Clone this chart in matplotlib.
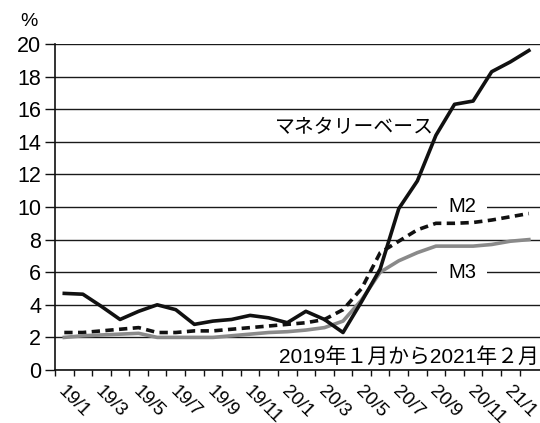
import numpy as np
import matplotlib.pyplot as plt

plt.rcParams['font.family'] = ['Liberation Sans', 'Noto Sans CJK JP', 'DejaVu Sans']

# ----------------------------------
# Data (year-on-year growth, %)
# ----------------------------------
months = ["19/1", "19/2", "19/3", "19/4", "19/5", "19/6", "19/7", "19/8", "19/9",
          "19/10", "19/11", "19/12", "20/1", "20/2", "20/3", "20/4", "20/5", "20/6",
          "20/7", "20/8", "20/9", "20/10", "20/11", "20/12", "21/1", "21/2"]

monetary_base = [4.7, 4.65, 3.9, 3.1, 3.6, 4.0, 3.7, 2.8, 3.0, 3.1, 3.35, 3.2,
                 2.9, 3.6, 3.1, 2.3, 4.2, 6.2, 9.9, 11.6, 14.4, 16.3, 16.5, 18.3,
                 18.9, 19.6]
m2 = [2.3, 2.3, 2.4, 2.5, 2.6, 2.3, 2.3, 2.4, 2.4, 2.5, 2.6, 2.7,
      2.8, 2.9, 3.1, 3.7, 5.0, 7.2, 7.9, 8.6, 9.0, 9.0, 9.05, 9.2, 9.4, 9.6]
m3 = [2.0, 2.1, 2.15, 2.2, 2.25, 2.0, 2.0, 2.0, 2.0, 2.1, 2.2, 2.3,
      2.35, 2.45, 2.6, 3.0, 4.3, 6.0, 6.7, 7.2, 7.6, 7.6, 7.6, 7.7, 7.9, 8.0]

yticks = np.arange(0, 21, 2)

# ----------------------------------
# Plot
# ----------------------------------
fig = plt.figure(figsize=(5.4, 4.23), dpi=100)
ax = fig.add_axes([55 / 540, 53 / 423, 485 / 540, 326 / 423])

x = np.arange(len(months))

ax.plot(x, monetary_base, color="#111111", lw=2.6, zorder=4,
        solid_joinstyle="round")
ax.plot(x, m2, color="#111111", lw=2.6, ls=(0, (2.3, 1.5)), zorder=3)
ax.plot(x, m3, color="#8a8a8a", lw=2.6, zorder=3)

# axes & grid
ax.set_xlim(-0.5, 25.6)
ax.set_ylim(0, 20)
ax.set_yticks(yticks)
ax.set_yticklabels([str(v) for v in yticks], fontsize=15.5)
ax.yaxis.grid(True, color="#1a1a1a", lw=1.0, zorder=1)
ax.set_axisbelow(True)

# month-boundary ticks, labels every two months
ax.set_xticks(x - 0.5)
ax.set_xticklabels([m if i % 2 == 0 else "" for i, m in enumerate(months)],
                   rotation=-45, ha="left", va="top", fontsize=13.5)

ax.tick_params(axis="y", direction="out", length=7, width=1.0, pad=3,
               color="#111111")
ax.tick_params(axis="x", direction="out", length=4, width=1.0, pad=5,
               color="#111111")

for side in ["top", "right"]:
    ax.spines[side].set_visible(False)
ax.spines["left"].set_linewidth(1.2)
ax.spines["bottom"].set_linewidth(1.2)
ax.spines["left"].set_color("#111111")
ax.spines["bottom"].set_color("#111111")

# series labels
ax.text(15.6, 14.85, "マネタリーベース", fontsize=14.3, ha="center", va="center",
        zorder=2.5)
ax.text(21.4, 10, "M2", fontsize=14.5, ha="center", va="center", zorder=2.5,
        bbox=dict(boxstyle="square,pad=0.55", fc="white", ec="none"))
ax.text(21.4, 6, "M3", fontsize=14.5, ha="center", va="center", zorder=2.5,
        bbox=dict(boxstyle="square,pad=0.55", fc="white", ec="none"))

ax.text(25.55, 0.8, "2019年１月から2021年２月", fontsize=15, ha="right",
        va="center", zorder=2.5)

fig.text(29 / 540, 1 - 22 / 423, "%", fontsize=14, ha="center", va="center")

plt.savefig("out.png", dpi=100)
plt.close()
